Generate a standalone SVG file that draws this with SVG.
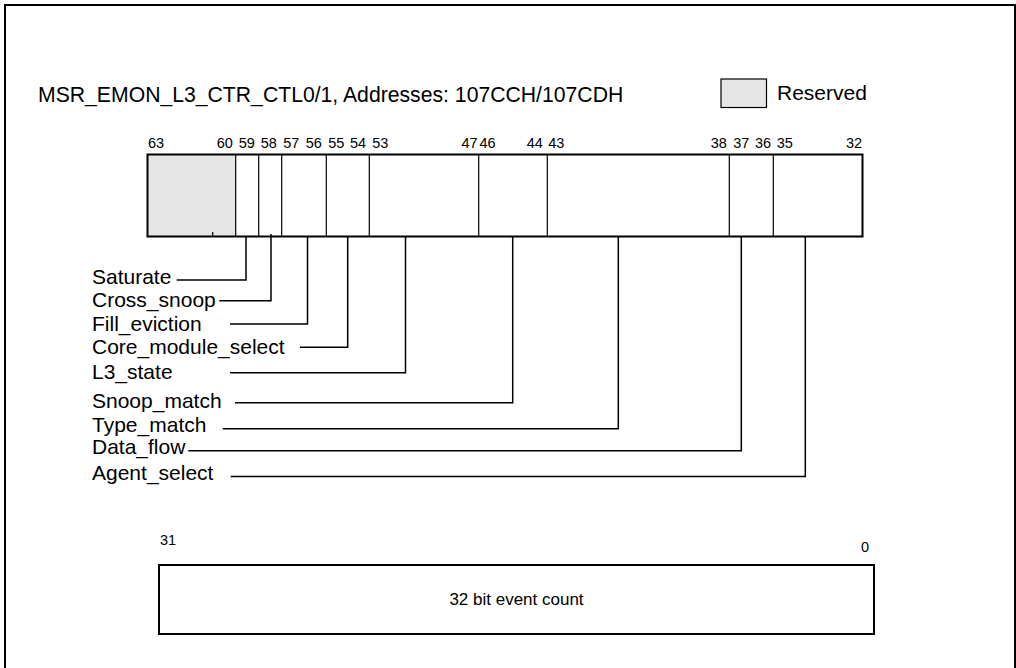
<svg xmlns="http://www.w3.org/2000/svg" width="1016" height="668" viewBox="0 0 1016 668">
<style>
text{font-family:"Liberation Sans",Arial,sans-serif;fill:#000}
.hdr{font-size:21.2px}
.lbl{font-size:21px}
.bit{font-size:14.5px}
.frame{fill:none;stroke:#000;stroke-width:2}
.div{stroke:#000;stroke-width:1.2}
.lead{fill:none;stroke:#000;stroke-width:1.5}
</style>
<rect x="5" y="5" width="1010" height="720" class="frame"/>
<g id="header">
<text class="hdr" x="38" y="102">MSR_EMON_L3_CTR_CTL0/1, Addresses: 107CCH/107CDH</text>
</g>
<g id="legend">
<rect x="721" y="79" width="45.5" height="28.5" fill="#e6e6e6" stroke="#000" stroke-width="1.2"/>
<text class="lbl" x="777" y="100">Reserved</text>
</g>
<g id="register-high">
<rect x="147.5" y="154.5" width="88" height="82" fill="#e6e6e6"/>
<line class="div" x1="235.7" y1="154.5" x2="235.7" y2="236.5"/>
<line class="div" x1="258.7" y1="154.5" x2="258.7" y2="236.5"/>
<line class="div" x1="281.7" y1="154.5" x2="281.7" y2="236.5"/>
<line class="div" x1="326.3" y1="154.5" x2="326.3" y2="236.5"/>
<line class="div" x1="369.3" y1="154.5" x2="369.3" y2="236.5"/>
<line class="div" x1="478.7" y1="154.5" x2="478.7" y2="236.5"/>
<line class="div" x1="547.3" y1="154.5" x2="547.3" y2="236.5"/>
<line class="div" x1="729.3" y1="154.5" x2="729.3" y2="236.5"/>
<line class="div" x1="773.3" y1="154.5" x2="773.3" y2="236.5"/>
<line class="div" x1="212.7" y1="232" x2="212.7" y2="236.5"/>
<rect x="147.5" y="154.5" width="715" height="82" class="frame"/>
<text class="bit" x="148" y="148">63</text>
<text class="bit" x="216.7" y="148">60</text>
<text class="bit" x="238.7" y="148">59</text>
<text class="bit" x="260.7" y="148">58</text>
<text class="bit" x="283.3" y="148">57</text>
<text class="bit" x="305.7" y="148">56</text>
<text class="bit" x="328.3" y="148">55</text>
<text class="bit" x="350" y="148">54</text>
<text class="bit" x="372.3" y="148">53</text>
<text class="bit" x="461.5" y="148">47</text>
<text class="bit" x="479.5" y="148">46</text>
<text class="bit" x="526.7" y="148">44</text>
<text class="bit" x="548.3" y="148">43</text>
<text class="bit" x="710.7" y="148">38</text>
<text class="bit" x="733.3" y="148">37</text>
<text class="bit" x="755" y="148">36</text>
<text class="bit" x="776.7" y="148">35</text>
<text class="bit" x="846" y="148">32</text>
</g>
<g id="labels">
<text class="lbl" x="92" y="283.5">Saturate</text>
<text class="lbl" x="92" y="307">Cross_snoop</text>
<text class="lbl" x="92" y="330.5">Fill_eviction</text>
<text class="lbl" x="92" y="354">Core_module_select</text>
<text class="lbl" x="92" y="379.3">L3_state</text>
<text class="lbl" x="92" y="408.3">Snoop_match</text>
<text class="lbl" x="92" y="431.7">Type_match</text>
<text class="lbl" x="92" y="454">Data_flow</text>
<text class="lbl" x="92" y="480">Agent_select</text>
</g>
<g id="connectors">
<polyline class="lead" points="176.7,280 246,280 246,237"/>
<polyline class="lead" points="219.3,300.7 271,300.7 271,234"/>
<polyline class="lead" points="230,324 307.5,324 307.5,237"/>
<polyline class="lead" points="300,347.3 347.7,347.3 347.7,237"/>
<polyline class="lead" points="230,372.7 405.5,372.7 405.5,237"/>
<polyline class="lead" points="235,402.7 512.7,402.7 512.7,237"/>
<polyline class="lead" points="222.7,428.7 618.3,428.7 618.3,237"/>
<polyline class="lead" points="188.3,450.7 741.3,450.7 741.3,237"/>
<polyline class="lead" points="230.7,476.5 805.3,476.5 805.3,237"/>
</g>
<g id="register-low">
<rect x="159" y="565" width="715" height="69" class="frame"/>
<text class="bit" x="160" y="545">31</text>
<text class="bit" x="869" y="552" text-anchor="end">0</text>
<text x="516.5" y="605" font-size="17px" text-anchor="middle">32 bit event count</text>
</g>
</svg>
